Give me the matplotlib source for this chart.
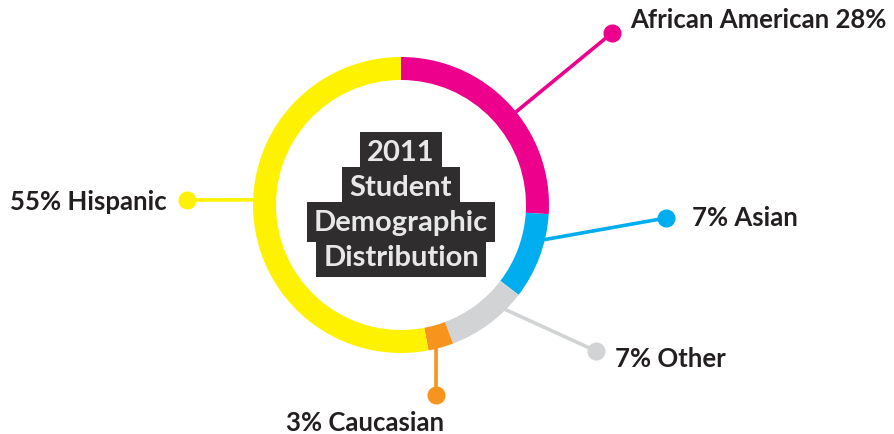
import numpy as np
import matplotlib
matplotlib.use("Agg")
import matplotlib.pyplot as plt

# ring shares as drawn (clockwise from 12 o'clock)
groups = ["African American", "Asian", "Other", "Caucasian", "Hispanic"]
shares = [26.0, 9.4, 8.9, 2.75, 53.0]
label_texts = ["African American 28%", "7% Asian", "7% Other", "3% Caucasian", "55% Hispanic"]
colors = ["#EC008C", "#00AEEF", "#D1D3D4", "#F7941D", "#FFF200"]
title_lines = ["2011", "Student", "Demographic", "Distribution"]

# layout (pixel space, y measured from top)
cx, cy, R, ring_w = 401, 206, 148, 23
anchor_deg = [51, 103.5, 135, 166.3, 272]          # where leader leaves the ring
dots = [(612, 34), (666, 219), (596, 352), (436, 396), (187, 201)]
text_pos = [(630, 20, "left"), (692, 218, "left"), (615, 359, "left"),
            (365, 423, "center"), (167, 202, "right")]

W, H = 894, 435
TXT = "#231F20"
FONT = "Lato"

fig = plt.figure(figsize=(W / 100, H / 100), dpi=100)
ax = fig.add_axes([0, 0, 1, 1])

def fy(y):
    return H - y

# leader lines + dots (under the ring)
for ang, (dx, dy), col in zip(anchor_deg, dots, colors):
    a = np.radians(ang)
    axp = cx + R * np.sin(a)
    ayp = cy - R * np.cos(a)
    v = np.array([axp - dx, ayp - dy])
    v = v / np.hypot(*v)
    sx, sy = axp + 10 * v[0], ayp + 10 * v[1]
    ax.plot([sx, dx], [fy(sy), fy(dy)], color=col, lw=2.6, solid_capstyle="butt", zorder=1)
    ax.plot(dx, fy(dy), "o", color=col, ms=13, mec="none", zorder=3)

ax.pie(shares, colors=colors, startangle=90, counterclock=False, radius=R,
       center=(cx, fy(cy)), wedgeprops=dict(width=ring_w, edgecolor="none"))
for w in ax.patches:
    w.set_zorder(2)

for txt, (tx, ty, ha) in zip(label_texts, text_pos):
    ax.text(tx, fy(ty), txt, ha=ha, va="center", fontsize=18.5, fontweight="bold",
            color=TXT, family=FONT, zorder=4)

# stacked title boxes
for i, line in enumerate(title_lines):
    ax.text(cx, fy(153 + 35 * i), line, ha="center", va="center", fontsize=21,
            fontweight="bold", color="#E8E8E8", family=FONT, zorder=6,
            bbox=dict(boxstyle="square,pad=0.25", fc="#2F2D2E", ec="none"))

ax.set_xlim(0, W)
ax.set_ylim(0, H)
ax.set_aspect("equal")
ax.axis("off")

fig.savefig("out.png", dpi=100, facecolor="white")
